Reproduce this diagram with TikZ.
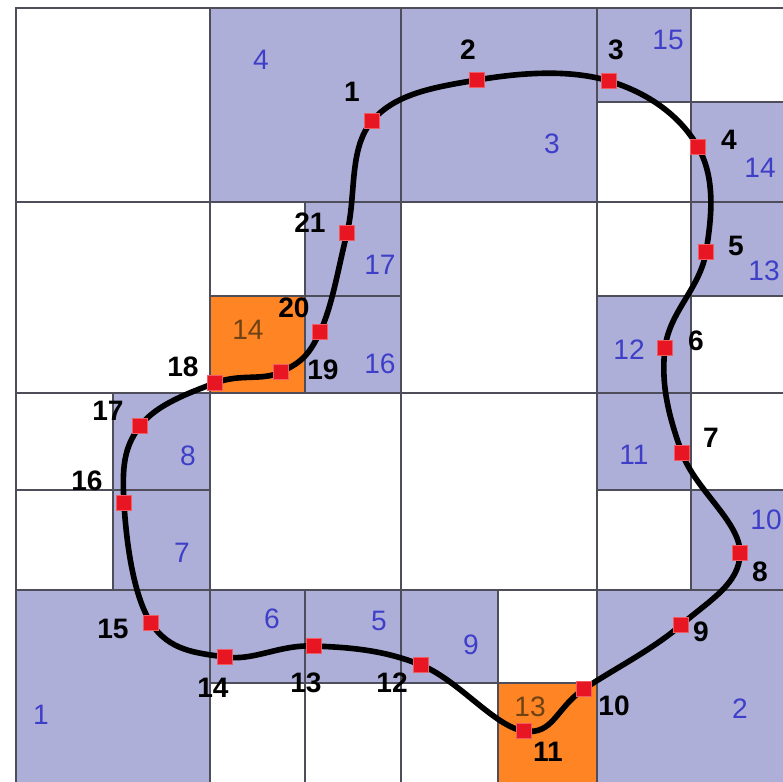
\documentclass[tikz,border=0pt]{standalone}
\usepackage{fontspec}
\setmainfont{Liberation Sans}
\usepackage{tikz}

\definecolor{lav}{RGB}{173,175,216}
\definecolor{cellblue}{RGB}{62,62,200}
\definecolor{tileorange}{RGB}{255,132,36}
\definecolor{tilebrown}{RGB}{110,66,20}
\definecolor{dotred}{RGB}{232,22,34}
\definecolor{gridgray}{RGB}{78,78,90}

\begin{document}
\begin{tikzpicture}[x=0.025cm,y=-0.025cm,
  cell/.style={draw=gridgray,line width=0.8pt},
  cellnum/.style={text=cellblue,font=\fontsize{20}{24}\selectfont},
  ptnum/.style={font=\fontsize{20}{24}\selectfont\bfseries},
  knot/.style={fill=dotred,draw=dotred!70!white,line width=0.4pt,inner sep=0pt,minimum size=11pt}]
\useasboundingbox (0,0) rectangle (783,782);
\clip (0,0) rectangle (783,782);
\fill[white] (0,0) rectangle (783,782);

% quadtree leaves
\foreach \a/\b/\c/\d in {210/8/401/202, 401/8/597/202, 597/8/691/102, 691/102/788/202,
    691/202/788/296, 597/296/691/393, 305/202/401/296, 305/296/401/393,
    113/393/210/490, 113/490/210/590, 597/393/691/490, 691/490/788/590,
    16/590/210/790, 210/590/305/683, 305/590/401/683, 401/590/498/683, 597/590/788/790}
  \filldraw[cell,fill=lav] (\a,\b) rectangle (\c,\d);
\foreach \a/\b/\c/\d in {210/296/305/393, 498/683/597/790}
  \filldraw[cell,fill=tileorange] (\a,\b) rectangle (\c,\d);
\foreach \a/\b/\c/\d in {16/8/210/202, 16/202/210/393, 210/202/305/296, 691/8/788/102,
    597/102/691/202, 401/202/597/393, 597/202/691/296, 691/296/788/393,
    16/393/113/490, 16/490/113/590, 210/393/401/590, 401/393/597/590,
    691/393/788/490, 597/490/691/590, 498/590/597/683, 401/683/498/790,
    210/683/305/790, 305/683/401/790}
  \draw[cell] (\a,\b) rectangle (\c,\d);

% cell numbers
\foreach \i/\x/\y in {1/41/715, 2/740/709, 3/552/144, 4/261/60, 5/379/621, 6/272/619,
    7/182/553, 8/188/456, 9/471/645, 10/766/520, 11/634/455, 12/629/350,
    13/764/271, 14/760/168, 15/668/40, 16/380/364, 17/380/265}
  \node[cellnum] (c\i) at (\x,\y) {\i};
\node[cellnum,text=tilebrown] (o14) at (248,330) {14};
\node[cellnum,text=tilebrown] (o13) at (530,707) {13};

% boundary points
\foreach \i/\x/\y in {1/372/121, 2/477/80, 3/609/81, 4/698/147, 5/706/252, 6/665/348,
    7/682/453, 8/740/553, 9/681/625, 10/584/689, 11/524/731, 12/421/665,
    13/314/646, 14/225/657, 15/151/623, 16/124/503, 17/140/426, 18/215/383,
    19/281/372, 20/320/332, 21/347/233}
  \coordinate (p\i) at (\x,\y);

\draw[line width=4pt] plot[smooth cycle,tension=0.65] coordinates {(p1) (p2) (p3) (p4)
  (p5) (p6) (p7) (p8) (p9) (p10) (p11) (p12) (p13) (p14) (p15) (p16) (p17) (p18)
  (p19) (p20) (p21)};

\foreach \i in {1,...,21}
  \node[knot] (k\i) at (p\i) {};

% point numbers
\foreach \i/\x/\y in {1/352/92, 2/468/50, 3/616/50, 4/729/140, 5/736/246, 6/696/341,
    7/711/438, 8/760/572, 9/701/632, 10/614/706, 11/548/752, 12/392/683,
    13/306/683, 14/213/688, 15/113/629, 16/87/481, 17/108/411, 18/183/367,
    19/323/370, 20/294/308, 21/310/223}
  \node[ptnum] (n\i) at (\x,\y) {\i};
\end{tikzpicture}
\end{document}
